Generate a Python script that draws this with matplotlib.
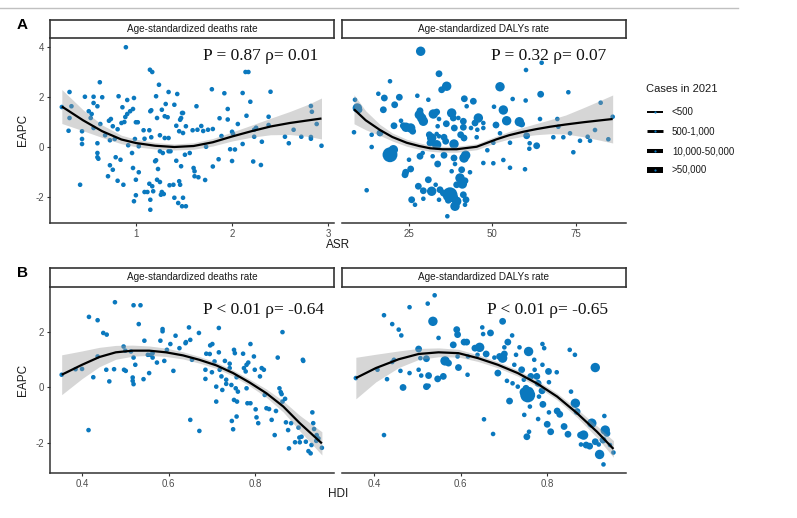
import matplotlib
matplotlib.use('Agg')
import matplotlib.pyplot as plt
from matplotlib.lines import Line2D
import numpy as np

# ---------------- data ----------------
# A-left: Age-standardized deaths rate, x = ASR, y = EAPC
tl_x = [0.896,1.146,1.17,0.625,0.31,0.47,0.56,0.65,0.82,0.91, 0.98,0.56,0.60,0.33,0.23,0.86,0.97,0.94,0.91,0.89,
        0.51,0.54,0.53,0.31,0.72,0.74,0.85,0.88,1.0,1.02, 0.63,0.76,0.81,0.56,0.30,0.44,1.08,1.14,1.15,1.16,
        1.24,1.34,1.43,1.21,1.31,1.40,1.27,1.30,1.33,1.22, 1.48,1.49,1.46,1.47,1.42,1.52,1.45,1.49,1.63,1.64,
        1.59,1.25,1.30,1.34,1.16,1.09,0.99,1.03,0.92,0.96, 0.78,0.73,0.68,0.44,0.44,0.60,0.60,0.60,0.61,0.79,
        0.84,0.73,0.76,0.71,0.81,0.87,0.42,0.97,1.03,1.0, 1.23,1.21,1.20,1.25,1.28,1.34,1.36,1.42,1.47,1.51,
        1.56,1.60,1.61,1.61,1.14,1.17,1.22,1.25,1.35,1.39, 1.45,1.46,1.09,1.12,1.18,1.27,1.29,1.26,1.0,1.15,
        0.98,1.40,1.44,1.49,1.48,1.52,1.15,1.65,
        1.79,1.92,2.14,2.17,2.11,2.19,2.40,1.955,1.87,1.955, 1.80,1.68,1.70,1.75,1.89,2.0,2.01,2.06,2.15,2.25,
        2.23,2.23,2.38,2.38,2.55,2.59,2.64,2.72,2.82,2.83, 2.88,2.82,2.82,2.93,2.31,2.11,1.98,1.86,2.0,2.22,
        2.30,1.80,2.03,1.73,1.72]
tl_y = [3.99,3.09,3.0,2.59,2.2,2.01,2.01,1.99,2.03,1.88, 1.96,1.76,1.63,1.63,1.6,1.59,1.52,1.43,1.32,1.2,
        1.43,1.32,1.16,1.16,1.05,1.12,0.96,1.0,0.99,0.99, 0.92,0.83,0.71,0.76,0.65,0.63,0.67,0.67,1.43,1.47,
        2.49,2.2,2.12,2.03,1.72,1.69,1.49,1.23,1.19,1.16, 1.36,1.36,1.09,1.16,0.85,0.83,0.63,0.56,1.63,0.69,
        0.67,0.47,0.36,0.36,0.39,0.33,0.32,0.03,0.07,-0.24, 0.32,0.27,0.47,0.32,0.12,0.15,-0.24,-0.41,-0.47,-0.41,
        -0.51,-0.73,-0.91,-1.17,-1.35,-1.51,-1.51,-0.84,-1.01,-1.31, -0.88,-0.53,-0.57,-0.17,-0.24,-0.17,-0.17,-0.55,-0.77,-0.31,
        -0.24,-0.84,-0.97,-1.17,-1.47,-1.57,-1.31,-1.4,-1.53,-1.51, -1.37,-1.51,-1.8,-1.8,-1.77,-1.8,-1.88,-1.91,-1.93,-2.11,
        -2.17,-2.03,-2.24,-2.03,-2.37,-2.37,-2.51,-1.21,
        2.31,2.15,3.0,3.0,2.16,1.81,2.21,1.52,1.15,1.1, 0.72,0.84,0.64,0.69,0.44,0.61,0.53,0.92,1.25,0.77,
        0.69,0.41,1.21,0.88,0.41,0.15,0.69,0.41,1.64,1.41, 0.92,0.4,0.33,0.05,0.21,0.12,-0.09,-0.49,-0.56,-0.58,
        -0.72,-0.78,-0.1,0.01,-1.32]
tl_s = [1] * len(tl_x)

# A-right: Age-standardized DALYs rate
tr_x = [28.5,34.0,19.3,36.3,34.8,15.8,17.6,22.1,27.5,30.8, 41.6,44.3,42.3,20.7,8.8,9.5,10.0,17.3,28.3,28.1,
        28.8,29.3,32.3,33.3,37.8,38.3,39.8,41.3,44.8,45.8, 22.6,20.5,24.1,25.5,26.1,23.3,34.0,36.2,38.6,41.3,
        43.6,45.5,47.3,13.8,16.3,8.5,31.1,31.8,33.3,34.0, 35.5,38.5,40.5,41.5,45.3,31.3,33.3,36.0,13.8,19.3,
        20.3,25.0,28.3,29.1,32.1,35.5,38.5,41.5,42.0,38.8, 33.6,47.3,25.5,24.0,23.8,37.8,40.8,43.3,30.8,33.0,
        40.3,41.8,41.0,39.3,12.3,27.8,29.3,31.8,34.3,35.3, 37.3,38.3,39.3,36.8,41.3,42.1,34.0,25.8,29.3,26.8,
        38.8,41.8,36.5,47.3,33.6, 52.3,60.1,64.8,56.1,60.0,
        64.5,72.8,50.5,53.3,54.3,58.1,58.8,64.3,69.5,69.8, 82.5,86.1,80.8,78.6,76.3,79.3,84.8,73.3,71.3,68.3,
        63.3,61.1,61.2,60.3,55.3,52.3,51.1,74.3,53.3,48.5, 50.3,59.8,55.3,50.3]
tr_y = [3.83,2.93,2.63,2.43,2.29,2.13,1.96,1.99,2.05,1.89, 1.93,1.83,1.63,1.69,1.89,1.56,1.49,1.49,1.45,1.29,
        1.16,1.03,1.32,1.40,1.36,1.16,1.16,1.03,0.96,1.16, 1.05,0.85,0.79,0.76,0.63,0.85,1.12,0.93,0.76,0.79,
        0.76,0.69,0.76,0.49,0.56,0.59,0.49,0.36,0.52,0.43, 0.39,0.12,0.49,0.36,0.39,0.16,0.09,0.23,0.0,-0.31,
        -0.11,-0.51,-0.37,-0.24,-0.37,-0.33,-0.44,-0.44,-0.33,-0.68, -0.68,-0.64,-0.88,-1.01,-1.11,-0.97,-0.91,-1.01,-1.31,-1.51,
        -1.24,-1.35,-1.48,-1.51,-1.73,-1.57,-1.75,-1.77,-1.71,-1.84, -1.91,-2.01,-2.17,-2.13,-1.91,-2.11,-2.11,-2.11,-2.07,-2.31,
        -2.37,-2.31,-2.77,0.96,0.83, 2.41,3.08,3.37,1.92,1.86,
        2.11,2.19,1.61,1.48,1.05,1.01,0.92,1.12,1.12,0.81, 1.77,1.21,0.68,0.41,0.25,0.25,0.31,0.55,0.39,0.39,
        0.05,-0.07,0.15,0.45,0.17,0.55,0.88,-0.21,-0.52,-0.13, -0.65,-0.89,-0.83,0.17]
tr_s = [3,2,1,3,2,1,2,2,1,1, 2,2,1,2,1,3,2,2,2,3, 3,3,3,2,3,2,1,2,2,3, 1,2,3,3,2,2,1,2,2,2,
        1,1,1,1,2,1,2,3,1,1, 2,3,2,2,1,2,3,2,1,4, 3,1,2,1,1,2,2,3,3,1, 2,1,2,2,2,1,2,1,2,1,
        3,2,3,2,1,2,2,3,2,2, 4,3,3,2,2,2,1,2,1,1, 3,1,1,1,1, 3,1,1,1,1,
        2,1,1,3,3,3,2,1,1,1, 1,1,1,1,1,1,1,1,1,1, 2,1,1,2,1,1,2,1,1,1, 1,1,1,1]

# B-left: deaths rate vs HDI
bl_x = [0.353,0.385,0.40,0.416,0.436,0.415,0.426,0.436,0.449,0.457, 0.456,0.463,0.476,0.474,0.496,0.50,0.497,0.501,0.519,0.535,
        0.531,0.513,0.519,0.523,0.517,0.517,0.519,0.544,0.542,0.552, 0.558,0.563,0.563,0.555,0.573,0.581,0.586,0.586,0.59,0.596,
        0.604,0.611,0.616,0.625,0.639,0.64,0.647,0.65,0.65,0.654, 0.67,0.671,0.687,0.685,0.685,0.696,0.701,0.695,0.70,0.706,
        0.71,0.71,0.716,0.716,0.718,0.722,0.724,0.73,0.733,0.733, 0.741,0.741,0.745,0.746,0.749,0.751,0.753,0.751,0.755,0.757,
        0.758,0.76,0.757,0.772,0.774,0.778,0.78,0.784,0.789,0.78, 0.782,0.789,0.797,0.799,0.801,0.803,0.807,0.811,0.815,0.82,
        0.822,0.826,0.832,0.838,0.845,0.848,0.852,0.856,0.859,0.861, 0.863,0.863,0.869,0.871,0.876,0.878,0.883,0.892,0.9,0.902,
        0.907,0.903,0.91,0.911,0.917,0.923,0.928,0.93,0.932,0.934, 0.936,0.941,0.946,0.954,0.942]
bl_y = [0.45,0.65,0.66,2.54,2.42,-1.55,0.36,1.11,1.96,1.9, 0.63,0.21,3.07,0.65,1.47,1.32,0.63,0.59,2.96,2.96,
        2.28,1.29,1.07,0.81,0.35,0.23,0.11,1.68,0.29,1.17, 1.17,1.23,1.07,0.51,0.89,1.68,2.1,2.02,0.95,1.35,
        1.56,0.59,1.86,1.41,1.59,1.63,2.16,1.71,-1.18,0.99, 1.96,-1.58,1.21,0.63,0.3,1.51,1.56,1.2,0.54,0.93,
        0.02,-0.52,2.14,1.26,0.63,0.39,-0.1,0.95,0.27,0.12, 0.69,0.85,0.08,-1.22,-1.52,1.35,1.23,-0.46,-0.04,-1.06,
        -0.52,-0.16,0.36,1.21,0.69,0.57,0.81,0.89,1.56,-0.04, -0.58,-0.58,1.11,0.63,-0.8,-1.09,-1.3,0.39,0.69,0.63,
        -0.28,-0.76,-0.79,-1.18,-1.73,-0.86,1.07,-0.04,-0.18,-0.25, 1.99,-0.52,-0.42,-1.27,-1.55,-2.21,-1.3,-1.99,-1.46,-1.82,
        -1.79,-1.99,0.99,0.95,-1.97,-2.31,-2.39,-2.09,-0.91,-1.3, -1.51,-1.94,-1.85,-2.19,-1.73]
bl_s = [1] * len(bl_x)

# B-right: DALYs rate vs HDI
br_x = [0.358,0.408,0.423,0.423,0.43,0.442,0.442,0.446,0.457,0.463, 0.461,0.467,0.482,0.482,0.503,0.507,0.503,0.509,0.521,0.526,
        0.524,0.526,0.54,0.536,0.521,0.549,0.547,0.56,0.564,0.572, 0.583,0.591,0.593,0.595,0.593,0.608,0.614,0.616,0.617,0.633,
        0.644,0.639,0.65,0.652,0.654,0.659,0.669,0.675,0.678,0.69, 0.697,0.697,0.701,0.701,0.686,0.709,0.707,0.713,0.719,0.724,
        0.72,0.728,0.732,0.736,0.741,0.746,0.747,0.751,0.755,0.753, 0.757,0.758,0.76,0.762,0.77,0.771,0.776,0.779,0.779,0.781,
        0.789,0.789,0.79,0.793,0.803,0.804,0.8,0.808,0.804,0.822, 0.823,0.829,0.839,0.848,0.852,0.855,0.864,0.865,0.869,0.877,
        0.878,0.884,0.89,0.898,0.903,0.911,0.911,0.919,0.921,0.929, 0.932,0.934,0.938,0.93,0.953,0.945, 0.758,0.747,0.788]
br_y = [0.33,0.63,2.6,-1.73,0.29,2.28,0.91,0.99,2.08,1.87, 0.59,-0.01,2.89,0.51,1.38,1.05,0.63,0.42,0.02,0.05,
        3.02,0.42,3.32,2.38,1.03,1.78,0.3,0.39,0.95,0.87, 1.53,2.08,1.9,0.71,1.11,1.63,1.63,0.45,1.11,1.41,
        1.44,1.17,2.16,1.92,-1.16,1.2,1.96,-1.69,1.07,1.11, 2.38,1.05,1.44,1.2,0.51,1.63,0.23,-0.5,1.87,0.81,
        0.14,1.17,0.02,1.44,0.63,0.27,-1.0,-0.04,-0.28,-1.79, 1.29,-1.61,-0.7,0.39,0.99,0.63,0.39,0.14,-1.15,-0.34,
        1.56,0.81,-0.62,1.41,0.57,-0.91,-1.34,-1.61,0.18,0.54, -0.86,-0.98,-1.42,-1.7,1.35,-0.16,1.17,-0.58,-0.88,-1.73,
        -2.07,-1.73,-2.09,-2.13,-1.3,0.71,-1.97,-2.07,-2.43,-1.91, -1.04,-1.55,-1.67,-2.79,-2.36,-2.09, -0.16,-0.18,-0.13]
br_s = [1,1,1,1,1,1,1,1,1,1, 1,2,1,1,2,1,1,1,2,1, 1,2,1,3,2,1,2,2,3,2, 2,2,2,2,1,2,2,1,1,2,
        3,1,1,1,1,2,2,1,1,2, 2,3,1,2,2,2,1,2,1,1, 1,1,1,1,2,1,1,2,4,2, 3,1,1,2,1,1,2,2,1,1,
        1,1,2,1,2,1,2,2,1,1, 2,2,2,2,1,1,1,3,2,2, 1,3,2,2,3,3,2,1,3,2, 1,3,2,1,1,1, 3,3,2]

# smoothed fits: x, fitted y, half-width of CI band
tl_fit_x = [0.23,0.45,0.65,0.85,1.0,1.2,1.4,1.6,1.8,2.0,2.2,2.4,2.6,2.8,2.93]
tl_fit_y = [1.62,1.07,0.63,0.3,0.16,0.05,0.0,0.04,0.19,0.42,0.63,0.82,0.96,1.07,1.14]
tl_fit_h = [0.68,0.42,0.25,0.17,0.15,0.13,0.12,0.13,0.15,0.18,0.24,0.33,0.46,0.65,0.82]

tr_fit_x = [8.5,12,16.3,20,24.3,28,31.3,35,39.3,45.3,51.3,55,59.3,63,67.3,72,77.3,82,86.1]
tr_fit_y = [1.51,1.07,0.68,0.4,0.17,0.04,-0.05,-0.09,-0.09,0.01,0.31,0.47,0.61,0.71,0.81,0.9,0.99,1.06,1.12]
tr_fit_h = [0.58,0.38,0.22,0.16,0.14,0.13,0.12,0.12,0.12,0.12,0.13,0.15,0.18,0.22,0.28,0.38,0.58,0.78,0.96]

bl_fit_x = [0.353,0.40,0.44,0.478,0.517,0.555,0.594,0.633,0.671,0.71,0.749,0.787,0.826,0.865,0.903,0.954]
bl_fit_y = [0.45,0.81,1.09,1.26,1.32,1.32,1.26,1.15,0.99,0.79,0.51,0.17,-0.22,-0.7,-1.3,-2.03]
bl_fit_h = [0.72,0.5,0.35,0.25,0.2,0.17,0.15,0.13,0.12,0.11,0.11,0.12,0.15,0.2,0.28,0.42]

br_fit_x = [0.358,0.404,0.457,0.503,0.549,0.595,0.64,0.686,0.732,0.778,0.823,0.869,0.915,0.953]
br_fit_y = [0.33,0.69,1.01,1.2,1.26,1.23,1.05,0.81,0.51,0.12,-0.34,-0.94,-1.61,-2.23]
br_fit_h = [0.75,0.5,0.3,0.2,0.16,0.14,0.12,0.11,0.11,0.11,0.12,0.15,0.21,0.3]

strip_titles = ['Age-standardized deaths rate', 'Age-standardized DALYs rate']
stat_labels = ['P = 0.87 \u03c1= 0.01', 'P = 0.32 \u03c1= 0.07',
               'P < 0.01 \u03c1= -0.64', 'P < 0.01 \u03c1= -0.65']
legend_title = 'Cases in 2021'
legend_labels = ['<500', '500-1,000', '10,000-50,000', '>50,000']
legend_widths = [1.4, 2.1, 2.9, 4.3]

# ---------------- styling ----------------
W, H = 797, 518
SANS = 'Liberation Sans'
SERIF = 'Liberation Serif'
POINT_COLOR = '#0a78be'
SIZE_MAP = {1: 11, 2: 24, 3: 46, 4: 115}
AXCOL = '#333333'
TICKLAB = '#4d4d4d'

fig = plt.figure(figsize=(W / 100, H / 100), dpi=100)


def rect(l, t, r, b):
    return [l / W, 1 - b / H, (r - l) / W, (b - t) / H]


def panel(box, strip_box, xs, ys, ss, fx, fy, fh, xlim, ylim, xticks, yticks,
          show_y, strip_text, stat, stat_pos):
    ax = fig.add_axes(rect(*box))
    ax.scatter(xs, ys, s=[SIZE_MAP[k] for k in ss], color=POINT_COLOR,
               linewidths=0, zorder=2)
    fx = np.asarray(fx); fy = np.asarray(fy); fh = np.asarray(fh)
    ax.fill_between(fx, fy - fh, fy + fh, color='#999999', alpha=0.4,
                    linewidth=0, zorder=3)
    ax.plot(fx, fy, color='black', lw=1.6, zorder=4, solid_capstyle='butt')
    ax.set_xlim(*xlim)
    ax.set_ylim(*ylim)
    ax.set_xticks(xticks)
    ax.set_yticks(yticks)
    ax.set_xticklabels([('%g' % v) for v in xticks], fontfamily=SANS,
                       fontsize=7, color=TICKLAB)
    ax.set_yticklabels([('%g' % v) for v in yticks],
                       fontfamily=SANS, fontsize=7, color=TICKLAB)
    for side in ['top', 'right']:
        ax.spines[side].set_visible(False)
    ax.spines['bottom'].set_color(AXCOL)
    ax.spines['left'].set_color(AXCOL)
    ax.spines['bottom'].set_linewidth(1.1)
    ax.spines['left'].set_linewidth(1.1)
    ax.tick_params(axis='both', direction='out', length=2.5, width=0.8,
                   color=AXCOL, pad=2)
    if not show_y:
        ax.spines['left'].set_visible(False)
        ax.tick_params(axis='y', left=False, labelleft=False)
    ax.text(stat_pos[0], stat_pos[1], stat, transform=ax.transAxes,
            fontfamily=SERIF, fontsize=12.5, ha='left', va='center',
            color='#111111', zorder=5)
    sax = fig.add_axes(rect(*strip_box))
    sax.set_xticks([]); sax.set_yticks([])
    sax.set_facecolor('white')
    for sp in sax.spines.values():
        sp.set_color(AXCOL)
        sp.set_linewidth(1.2)
    sax.text(0.5, 0.5, strip_text, ha='center', va='center',
             fontfamily=SANS, fontsize=7.2, color='#1a1a1a',
             transform=sax.transAxes)
    return ax


top_ylim = (-3.04, 4.36)
bot_ylim = (-3.1, 3.62)
hdi_lim = (0.326, 0.982)

panel((50, 38, 334, 223), (50, 20, 334, 38), tl_x, tl_y, tl_s,
      tl_fit_x, tl_fit_y, tl_fit_h, (0.107, 3.06), top_ylim, [1, 2, 3],
      [-2, 0, 2, 4], True, strip_titles[0], stat_labels[0], (0.537, 0.905))
panel((342, 38, 626, 223), (342, 20, 626, 38), tr_x, tr_y, tr_s,
      tr_fit_x, tr_fit_y, tr_fit_h, (4.9, 90.1), top_ylim, [25, 50, 75],
      [-2, 0, 2, 4], False, strip_titles[1], stat_labels[1], (0.523, 0.905))
panel((50, 287, 334, 473), (50, 268, 334, 287), bl_x, bl_y, bl_s,
      bl_fit_x, bl_fit_y, bl_fit_h, hdi_lim, bot_ylim, [0.4, 0.6, 0.8],
      [-2, 0, 2], True, strip_titles[0], stat_labels[2], (0.537, 0.875))
panel((342, 287, 626, 473), (342, 268, 626, 287), br_x, br_y, br_s,
      br_fit_x, br_fit_y, br_fit_h, hdi_lim, bot_ylim, [0.4, 0.6, 0.8],
      [-2, 0, 2], False, strip_titles[1], stat_labels[3], (0.509, 0.875))


def ft(px, py, s, **kw):
    fig.text(px / W, 1 - py / H, s, **kw)


# axis titles and panel tags
ft(23, 130, 'EAPC', rotation=90, ha='center', va='center', fontfamily=SANS,
   fontsize=8.5, color='#1a1a1a')
ft(23, 380, 'EAPC', rotation=90, ha='center', va='center', fontfamily=SANS,
   fontsize=8.5, color='#1a1a1a')
ft(338, 245, 'ASR', ha='center', va='center', fontfamily=SANS, fontsize=8.5,
   color='#1a1a1a')
ft(338, 494, 'HDI', ha='center', va='center', fontfamily=SANS, fontsize=8.5,
   color='#1a1a1a')
ft(22, 25, 'A', ha='center', va='center', fontfamily=SANS, fontsize=11,
   fontweight='bold')
ft(22, 273, 'B', ha='center', va='center', fontfamily=SANS, fontsize=11,
   fontweight='bold')

# page separator line at the top
fig.add_artist(Line2D([0 / W, 738 / W], [1 - 8 / H, 1 - 8 / H],
                      transform=fig.transFigure, color='#c0c0c0', lw=1.0))

# legend
ft(646, 89, legend_title, ha='left', va='center', fontfamily=SANS,
   fontsize=8, color='#1a1a1a')
ys_leg = [112, 131, 151, 170]
for lab, lw, yy in zip(legend_labels, legend_widths, ys_leg):
    fig.add_artist(Line2D([647 / W, 663 / W], [1 - yy / H, 1 - yy / H],
                          transform=fig.transFigure, color='black', lw=lw,
                          solid_capstyle='butt'))
    fig.add_artist(Line2D([655 / W], [1 - yy / H], transform=fig.transFigure,
                          marker='o', markersize=1.6, color=POINT_COLOR,
                          markeredgewidth=0, linestyle='none'))
    ft(672, yy, lab, ha='left', va='center', fontfamily=SANS, fontsize=7,
       color='#1a1a1a')

fig.savefig('out.png', dpi=100, facecolor='white')
